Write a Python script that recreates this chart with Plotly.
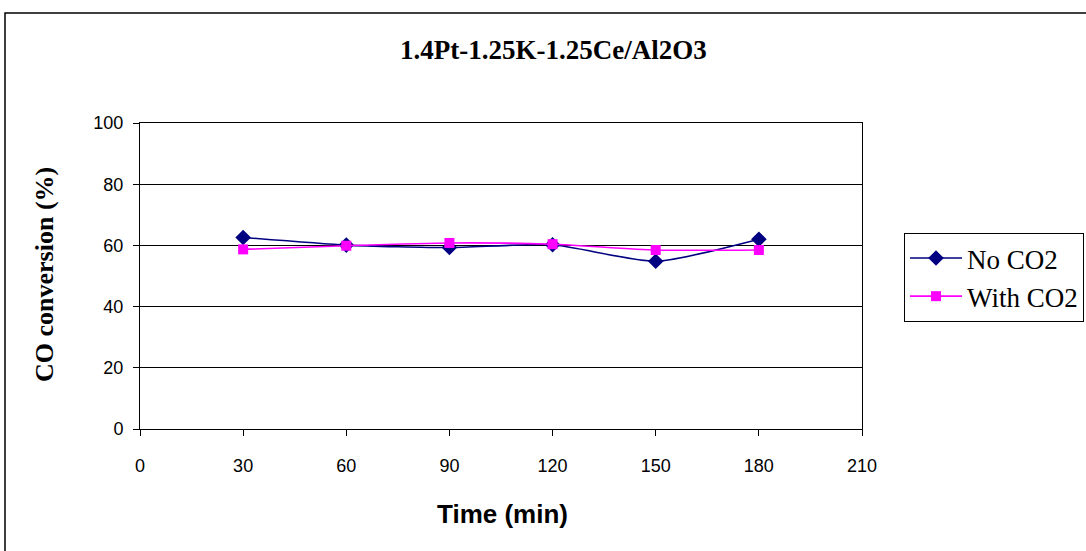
import plotly.graph_objects as go

time_min = [30, 60, 90, 120, 150, 180]
no_co2 = [62.6, 60.1, 59.3, 60.2, 54.8, 62.0]
with_co2 = [58.7, 59.9, 60.8, 60.4, 58.5, 58.5]

W, H = 1086, 551
L, R, T, B = 140, 862, 123, 429

def px(x):
    return (x - L) / (R - L)

def py(y):
    return (B - y) / (B - T)

fig = go.Figure()
fig.add_trace(go.Scatter(x=time_min, y=no_co2, name="No CO2", mode="lines+markers",
                         line=dict(color="#000080", width=1.6, shape="spline", smoothing=0.6),
                         marker=dict(symbol="diamond", size=12, color="#000080")))
fig.add_trace(go.Scatter(x=time_min, y=with_co2, name="With CO2", mode="lines+markers",
                         line=dict(color="#FF00FF", width=1.6, shape="spline", smoothing=0.6),
                         marker=dict(symbol="square", size=10, color="#FF00FF")))

fig.update_layout(
    width=W, height=H,
    margin=dict(l=L, r=W - R, t=T, b=H - B, autoexpand=False),
    paper_bgcolor="white", plot_bgcolor="white",
    showlegend=True,
    legend=dict(x=px(904), y=py(233), xanchor="left", yanchor="top",
                bordercolor="black", borderwidth=1, bgcolor="white",
                font=dict(family="Liberation Serif", size=27, color="black"),
                tracegroupgap=0, itemwidth=52),
    xaxis=dict(range=[0, 210], tickvals=[0, 30, 60, 90, 120, 150, 180, 210],
               showgrid=False, zeroline=False, showline=True, linecolor="black", linewidth=1,
               mirror=True, ticks="outside", ticklen=6, tickcolor="black",
               ticklabelstandoff=14, automargin=False,
               tickfont=dict(family="Liberation Sans", size=18, color="black")),
    yaxis=dict(range=[0, 100], tickvals=[0, 20, 40, 60, 80, 100],
               showgrid=True, gridcolor="black", gridwidth=1, zeroline=False,
               showline=True, linecolor="black", linewidth=1, mirror=True,
               ticks="outside", ticklen=6, tickcolor="black",
               ticklabelstandoff=6, automargin=False,
               tickfont=dict(family="Liberation Sans", size=18, color="black")),
)

fig.add_annotation(text="<b>1.4Pt-1.25K-1.25Ce/Al2O3</b>", xref="paper", yref="paper",
                   x=px(553), y=py(50), xanchor="center", yanchor="middle", showarrow=False,
                   font=dict(family="Liberation Serif", size=27, color="black"))
fig.add_annotation(text="<b>Time (min)</b>", xref="paper", yref="paper",
                   x=px(502), y=py(514), xanchor="center", yanchor="middle", showarrow=False,
                   font=dict(family="Liberation Sans", size=26, color="black"))
fig.add_annotation(text="<b>CO conversion (%)</b>", xref="paper", yref="paper",
                   x=px(44), y=py(275), xanchor="center", yanchor="middle", showarrow=False,
                   textangle=-90,
                   font=dict(family="Liberation Serif", size=26, color="black"))

fig.add_shape(type="rect", xref="paper", yref="paper",
              x0=px(5), x1=px(1095), y0=py(13), y1=py(570),
              line=dict(color="black", width=1.5), layer="below")

fig.write_html("out.html")
